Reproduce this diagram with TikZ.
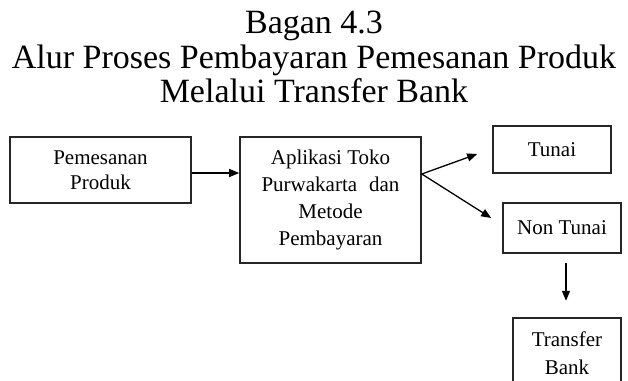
\documentclass[tikz,border=0pt]{standalone}
\usepackage{fontspec}
\setmainfont{Liberation Serif}
\usetikzlibrary{arrows.meta,calc}
\tikzset{
  boxnode/.style={draw=black!85, line width=1.6pt, inner sep=0pt, align=center,
    font=\fontsize{21}{25}\selectfont},
  arr/.style={line width=1.3pt, -{Triangle[length=10pt,width=8pt]}},
  titlefont/.style={font=\fontsize{34}{35}\selectfont, align=center, inner sep=0pt}
}
\begin{document}
\begin{tikzpicture}[x=1pt,y=-1pt]
\useasboundingbox (0,0) rectangle (628,380);
% title
\node[titlefont, anchor=base] (t1) at (314,33) {Bagan 4.3};
\node[titlefont, anchor=base] (t2) at (314,68) {Alur Proses Pembayaran Pemesanan Produk};
\node[titlefont, anchor=base] (t3) at (314,102) {Melalui Transfer Bank};
% boxes
\node[boxnode, minimum width=181pt, minimum height=66pt] (b1) at (100.5,170)
  {Pemesanan\\Produk};
\node[boxnode, minimum width=181pt, minimum height=126pt, font=\fontsize{21}{27}\selectfont] (b2) at (330.5,200)
  {Aplikasi Toko\\Purwakarta\hspace{12pt}dan\\Metode\\Pembayaran};
\node[boxnode, minimum width=118pt, minimum height=47pt] (tunai) at (552,149.5) {Tunai};
\node[boxnode, minimum width=118pt, minimum height=50pt] (nontunai) at (562,228) {Non Tunai};
\begin{scope}
\clip (0,0) rectangle (628,380);
\node[boxnode, minimum width=108pt, minimum height=70pt, anchor=north, font=\fontsize{21}{28}\selectfont] (tb) at (567,317)
  {Transfer\\Bank};
\end{scope}
% connectors
\coordinate (a1) at ($(b1.east)+(0,3)$);
\draw[arr] (a1) -- (a1 -| b2.west);
\coordinate (fork) at ($(b2.east)+(0,-26)$);
\coordinate (tt) at ($(tunai.west)+(-15,4.5)$);
\coordinate (nt) at ($(nontunai.west)+(-11,-10)$);
\draw[arr] (fork) -- (tt);
\draw[arr] (fork) -- (nt);
\coordinate (d1) at ($(nontunai.south)+(4,9)$);
\coordinate (d2) at ($(nontunai.south)+(4,47)$);
\draw[arr] (d1) -- (d2);
\end{tikzpicture}
\end{document}
